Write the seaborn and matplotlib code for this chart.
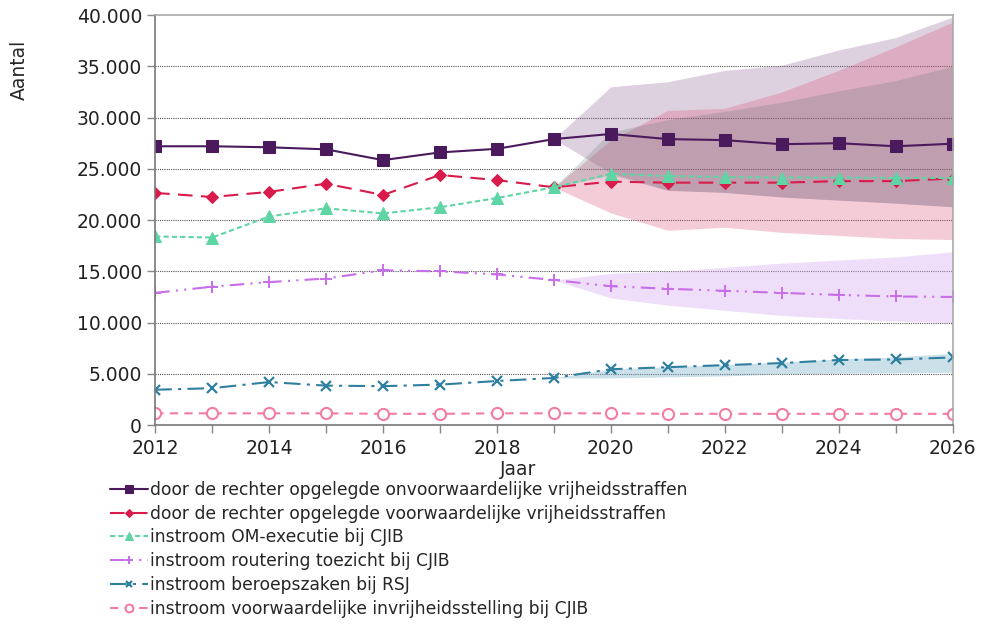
import numpy as np
import pandas as pd
import matplotlib
matplotlib.use("Agg")
import matplotlib.pyplot as plt
import seaborn as sns

years = list(range(2012, 2027))
band_years = list(range(2019, 2027))

onvoorwaardelijk = [27200, 27200, 27100, 26900, 25850, 26600, 26950, 27900,
                    28400, 27900, 27800, 27400, 27500, 27200, 27450]
voorwaardelijk = [22650, 22250, 22750, 23550, 22450, 24400, 23900, 23200,
                  23750, 23650, 23650, 23650, 23800, 23800, 24050]
om_executie = [18400, 18300, 20350, 21150, 20650, 21250, 22150, 23200,
               24500, 24300, 24200, 24150, 24150, 24100, 24100]
routering = [12900, 13500, 13950, 14300, 15100, 15000, 14700, 14150,
             13550, 13300, 13100, 12900, 12700, 12550, 12500]
beroepszaken = [3450, 3600, 4200, 3850, 3800, 3950, 4300, 4600,
                5450, 5650, 5850, 6050, 6350, 6400, 6600]
invrijheidstelling = [1150, 1150, 1150, 1150, 1100, 1100, 1150, 1150,
                      1150, 1100, 1100, 1100, 1100, 1100, 1100]

# bandbreedtes prognose (onder, boven), vanaf 2019
band_onvw_lo = [27900, 24600, 22900, 22700, 22250, 21950, 21650, 21300]
band_onvw_hi = [27900, 33000, 33500, 34600, 35100, 36600, 37800, 39800]
band_vw_lo = [23200, 20700, 19000, 19300, 18800, 18500, 18200, 18100]
band_vw_hi = [23200, 27800, 30700, 30900, 32500, 34600, 36900, 39300]
band_om_lo = [23200, 24400, 22900, 22700, 22250, 21950, 21650, 21300]
band_om_hi = [23200, 28600, 29800, 30600, 31500, 32600, 33600, 35000]
band_rout_lo = [14150, 12400, 11700, 11200, 10700, 10400, 10150, 10000]
band_rout_hi = [14150, 14800, 15000, 15400, 15800, 16100, 16400, 16900]
band_ber_lo = [4600, 4600, 4700, 4800, 5000, 5050, 5100, 5150]
band_ber_hi = [4600, 5450, 5700, 5900, 6150, 6450, 6650, 7000]

labels = [
    "door de rechter opgelegde onvoorwaardelijke vrijheidsstraffen",
    "door de rechter opgelegde voorwaardelijke vrijheidsstraffen",
    "instroom OM-executie bij CJIB",
    "instroom routering toezicht bij CJIB",
    "instroom beroepszaken bij RSJ",
    "instroom voorwaardelijke invrijheidsstelling bij CJIB",
]

sns.set_style("white")
plt.rcParams['font.family'] = ['DejaVu Sans']

fig, ax = plt.subplots(figsize=(9.82, 6.27), dpi=100)
fig.subplots_adjust(left=0.158, right=0.970, top=0.976, bottom=0.322)

# bands
ax.fill_between(band_years, band_onvw_lo, band_onvw_hi, color="#8a5a8e", alpha=0.28, lw=0)
ax.fill_between(band_years, band_vw_lo, band_vw_hi, color="#d9587f", alpha=0.3, lw=0)
ax.fill_between(band_years, band_om_lo, band_om_hi, color="#5a6e70", alpha=0.22, lw=0)
ax.fill_between(band_years, band_rout_lo, band_rout_hi, color="#d9aef0", alpha=0.4, lw=0)
ax.fill_between(band_years, band_ber_lo, band_ber_hi, color="#7fb2c8", alpha=0.4, lw=0)

series = [
    (onvoorwaardelijk, "#4b1a5c", "-", "s", dict(markersize=8.5)),
    (voorwaardelijk, "#d81b4a", (0, (7, 4)), "D", dict(markersize=6)),
    (om_executie, "#5fd4a4", (0, (2.5, 1.5)), "^", dict(markersize=8)),
    (routering, "#c76ee8", (0, (7, 3, 1, 3, 1, 3)), "+", dict(markersize=9, markeredgewidth=1.4)),
    (beroepszaken, "#2f7f9f", (0, (8, 3, 1.5, 3)), "x", dict(markersize=7, markeredgewidth=1.6)),
    (invrijheidstelling, "#f37ca0", (0, (4, 3)), "o", dict(markersize=8, markerfacecolor="white", markeredgewidth=1.5)),
]

for (vals, col, ls, mk, kw), lab in zip(series, labels):
    sns.lineplot(x=years, y=vals, ax=ax, color=col, linestyle=ls, linewidth=1.5,
                 marker=mk, markeredgecolor=col, label=lab, **kw)

ax.set_xlim(2012, 2026)
ax.set_ylim(0, 40000)
ax.set_xticks(range(2012, 2027))
ax.set_xticklabels([str(y) if y % 2 == 0 else "" for y in range(2012, 2027)])
ax.set_yticks(range(0, 40001, 5000))
ax.yaxis.set_major_formatter(matplotlib.ticker.FuncFormatter(
    lambda v, p: "0" if v == 0 else f"{int(v):,}".replace(",", ".")))
ax.tick_params(axis="both", labelsize=13.5, colors="#222222", length=6,
               direction="out", left=True, bottom=True, width=1)
ax.tick_params(axis="x", pad=4, color="#888888")
ax.tick_params(axis="y", color="#888888")

for y in range(5000, 40000, 5000):
    ax.axhline(y, color="#555555", linestyle=(0, (1, 1)), linewidth=0.8, zorder=0.5)

for s in ["top", "right", "bottom", "left"]:
    ax.spines[s].set_visible(True)
    ax.spines[s].set_color("#aaaaaa")
    ax.spines[s].set_linewidth(1.2)
ax.spines["left"].set_color("#777777")
ax.spines["bottom"].set_color("#777777")

ax.set_xlabel("Jaar", fontsize=13.5, labelpad=-2)
ax.xaxis.set_label_coords(0.455, -0.085)
ax.set_ylabel("Aantal", fontsize=13.5)
ax.yaxis.set_label_coords(-0.159, 0.866)

handles, labs = ax.get_legend_handles_labels()
ax.get_legend().remove()
fig.legend(handles[:6], labs[:6], loc="upper left", bbox_to_anchor=(0.105, 0.244),
           frameon=False, fontsize=12.3, handlelength=2.2, handletextpad=0.15,
           labelspacing=0.34, borderaxespad=0, markerscale=0.7)

plt.savefig("out.png", dpi=100)
